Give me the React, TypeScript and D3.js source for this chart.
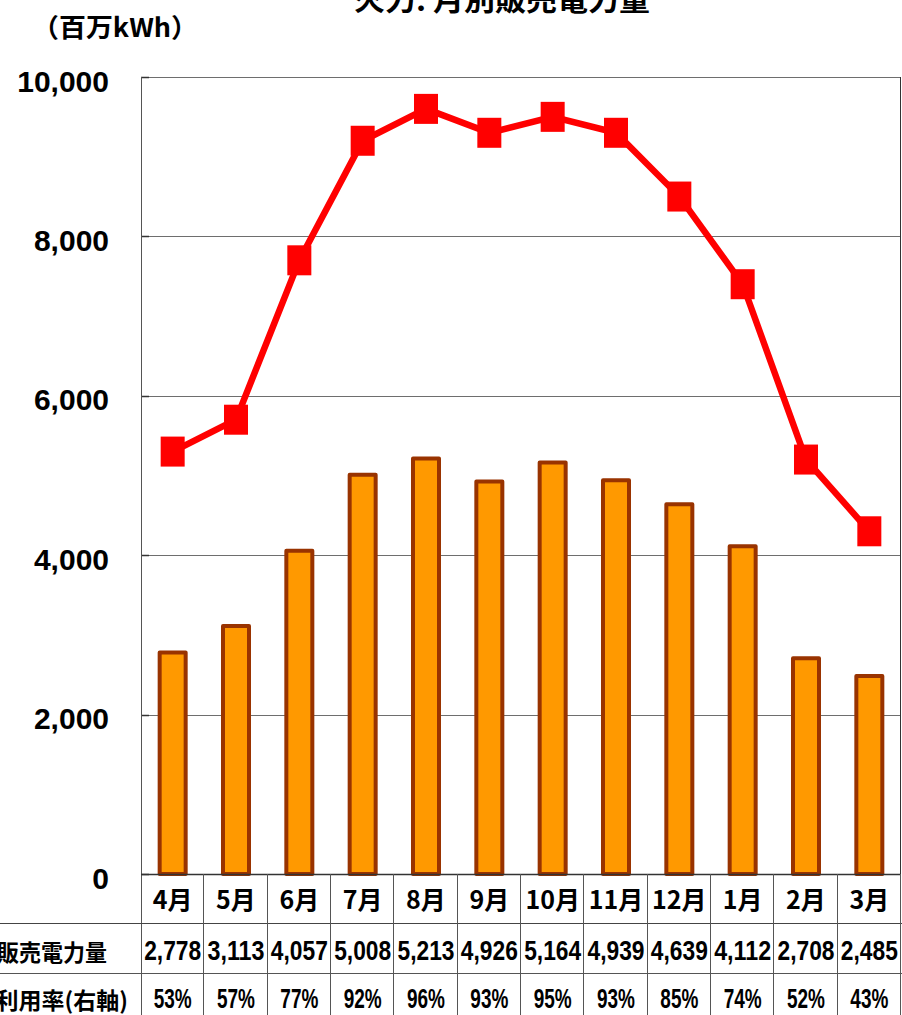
import React from "react";
import * as d3 from "d3";

const months = ["4月", "5月", "6月", "7月", "8月", "9月", "10月", "11月", "12月", "1月", "2月", "3月"];
const sales = [2778, 3113, 4057, 5008, 5213, 4926, 5164, 4939, 4639, 4112, 2708, 2485];
const utilization = [53, 57, 77, 92, 96, 93, 95, 93, 85, 74, 52, 43];
const leftTicks = [0, 2000, 4000, 6000, 8000, 10000];
const title = "火力: 月別販売電力量";
const unitLabel = "（百万kWh）";
const rowLabels = ["販売電力量", "設備利用率(右軸)"];

const W = 902;
const H = 1015;
const plotL = 141;
const plotR = 901;
const plotT = 77;
const plotB = 874;

const CJK = "'Noto Sans CJK JP', 'Noto Sans', sans-serif";
const NUM = "'Liberation Sans', Arial, sans-serif";

export default function App() {
  const x = d3.scaleBand<string>().domain(months).range([plotL, plotR]).paddingInner(0).paddingOuter(0);
  const y = d3.scaleLinear().domain([0, 10000]).range([plotB, plotT]);
  const yR = d3.scaleLinear().domain([0, 100]).range([plotB, plotT]);
  const fmt = d3.format(",");
  const bw = x.bandwidth();
  const barW = 26;
  const cx = (m: string) => (x(m) as number) + bw / 2;

  const line = d3
    .line<number>()
    .x((_, i) => cx(months[i]))
    .y((d) => yR(d));

  const rowY1 = 923;
  const rowY2 = 973;

  return (
    <div style={{ position: "absolute", left: 0, top: 0 }}>
      <svg width={W} height={H} style={{ display: "block", background: "#fff" }}>
        {/* title */}
        <text x={502} y={11} textAnchor="middle" fontFamily={CJK} fontWeight="bold" fontSize={29} textLength={296} lengthAdjust="spacingAndGlyphs" fill="#000">
          {title}
        </text>
        <text x={32} y={37} fontFamily={CJK} fontWeight="bold" fontSize={26} textLength={166} lengthAdjust="spacingAndGlyphs" fill="#000">
          {unitLabel}
        </text>

        {/* gridlines */}
        {leftTicks.filter((t) => t > 0).map((t) => (
          <line key={t} x1={plotL} x2={plotR} y1={Math.round(y(t)) + 0.5} y2={Math.round(y(t)) + 0.5} stroke="#6e6e6e" strokeWidth={1} />
        ))}
        {/* ticks */}
        {leftTicks.map((t) => (
          <line key={"tk" + t} x1={plotL} x2={plotL + 8} y1={Math.round(y(t)) + 0.5} y2={Math.round(y(t)) + 0.5} stroke="#333" strokeWidth={1.5} />
        ))}
        {/* y labels */}
        {leftTicks.map((t) => (
          <text key={"yl" + t} x={109} y={y(t) + 14.5} textAnchor="end" fontFamily={NUM} fontWeight="bold" fontSize={30} fill="#000">
            {fmt(t)}
          </text>
        ))}

        {/* bars */}
        {sales.map((v, i) => (
          <rect
            key={"b" + i}
            x={cx(months[i]) - barW / 2}
            y={y(v)}
            width={barW}
            height={plotB - y(v)}
            fill="#FF9900"
            stroke="#993300"
            strokeWidth={4}
            strokeLinejoin="round"
          />
        ))}

        {/* axes */}
        <line x1={plotL + 0.5} x2={plotL + 0.5} y1={plotT} y2={H} stroke="#555" strokeWidth={1} />
        <line x1={plotR - 0.5} x2={plotR - 0.5} y1={plotT} y2={plotB} stroke="#333" strokeWidth={1} />
        <line x1={plotL} x2={plotR} y1={plotB + 0.5} y2={plotB + 0.5} stroke="#333" strokeWidth={1.5} />

        {/* line */}
        <path d={line(utilization) || ""} fill="none" stroke="#FF0000" strokeWidth={6.5} strokeLinejoin="miter" />
        {utilization.map((v, i) => (
          <rect key={"m" + i} x={cx(months[i]) - 12} y={yR(v) - 15} width={24} height={30} fill="#FF0000" />
        ))}

        {/* table */}
        <line x1={0} x2={W} y1={rowY1 + 0.5} y2={rowY1 + 0.5} stroke="#444" strokeWidth={1} />
        <line x1={0} x2={W} y1={rowY2 + 0.5} y2={rowY2 + 0.5} stroke="#555" strokeWidth={1} />
        {months.map((m, i) => (
          <line key={"v" + i} x1={Math.round((x(m) as number) + bw) - 0.5} x2={Math.round((x(m) as number) + bw) - 0.5} y1={plotB} y2={H} stroke="#555" strokeWidth={1} />
        ))}
        {months.map((m) => (
          <text key={"ml" + m} x={cx(m)} y={909} textAnchor="middle" fontFamily={CJK} fontWeight="bold" fontSize={25} fill="#000">
            {m}
          </text>
        ))}
        {sales.map((v, i) => (
          <text key={"sv" + i} x={cx(months[i])} y={960} textAnchor="middle" fontFamily={NUM} fontWeight="bold" fontSize={28} textLength={57} lengthAdjust="spacingAndGlyphs" fill="#000">
            {fmt(v)}
          </text>
        ))}
        {utilization.map((v, i) => (
          <text key={"uv" + i} x={cx(months[i])} y={1008} textAnchor="middle" fontFamily={NUM} fontWeight="bold" fontSize={28} textLength={38} lengthAdjust="spacingAndGlyphs" fill="#000">
            {v + "%"}
          </text>
        ))}
        <text x={107} y={961} textAnchor="end" fontFamily={CJK} fontWeight="bold" fontSize={23} textLength={110} lengthAdjust="spacingAndGlyphs" fill="#000">
          {rowLabels[0]}
        </text>
        <text x={128} y={1009} textAnchor="end" fontFamily={CJK} fontWeight="bold" fontSize={23} fill="#000">
          {rowLabels[1]}
        </text>
      </svg>
    </div>
  );
}
